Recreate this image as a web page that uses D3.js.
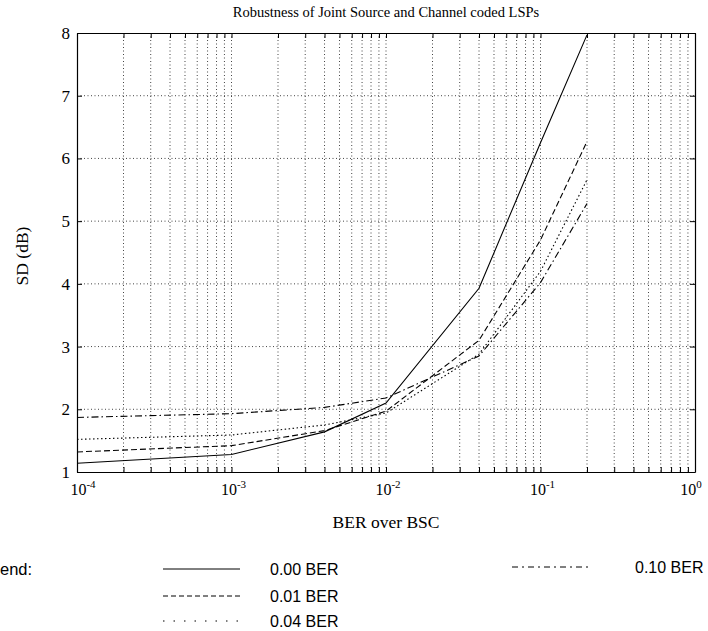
<!DOCTYPE html>
<html><head><meta charset="utf-8">
<script src="https://cdn.jsdelivr.net/npm/d3@7"></script>
<style>body{margin:0;background:#fff}svg{display:block}</style>
</head><body>
<svg id="c" width="708" height="631"></svg>
<script>
const berX = [1e-4, 1e-3, 4e-3, 1e-2, 4e-2, 1e-1, 2e-1];
const sd000 = [1.14, 1.28, 1.64, 2.10, 3.93, 6.25, 7.97];
const sd001 = [1.32, 1.42, 1.66, 1.97, 3.10, 4.70, 6.27];
const sd004 = [1.52, 1.59, 1.75, 1.94, 2.88, 4.20, 5.66];
const sd010 = [1.87, 1.93, 2.03, 2.18, 2.85, 4.02, 5.28];
const seriesNames = ["0.00 BER", "0.01 BER", "0.04 BER", "0.10 BER"];
const yTicks = [1, 2, 3, 4, 5, 6, 7, 8];
const xMajor = [-4, -3, -2, -1, 0];

const svg = d3.select("#c");
const L = 77, R = 695, T = 33, B = 472;
const x = d3.scaleLog().domain([1e-4, 1]).range([L, R]);
const y = d3.scaleLinear().domain([1, 8]).range([B, T]);

const xGrid = [];
for (let e = -4; e < 0; e++) for (let m = 1; m <= 9; m++) xGrid.push(m * Math.pow(10, e));
xGrid.push(1);

const g = svg.append("g");
g.selectAll(".vg").data(xGrid.filter(v => v > 1e-4 && v < 1)).enter().append("line")
  .attr("x1", d => x(d)).attr("x2", d => x(d)).attr("y1", T).attr("y2", B)
  .attr("stroke", "#444").attr("stroke-width", 1).attr("stroke-dasharray", "1,2.5");
g.selectAll(".hg").data(yTicks.filter(v => v > 1 && v < 8)).enter().append("line")
  .attr("x1", L).attr("x2", R).attr("y1", d => y(d)).attr("y2", d => y(d))
  .attr("stroke", "#444").attr("stroke-width", 1).attr("stroke-dasharray", "1,2.5");

const xb = d3.axisBottom(x).tickValues(xGrid).tickSizeInner(-5).tickSizeOuter(0).tickFormat("");
const xt = d3.axisTop(x).tickValues(xGrid).tickSizeInner(-5).tickSizeOuter(0).tickFormat("");
const yl = d3.axisLeft(y).tickValues(yTicks).tickSizeInner(-5).tickSizeOuter(0).tickFormat("");
const yr = d3.axisRight(y).tickValues(yTicks).tickSizeInner(-5).tickSizeOuter(0).tickFormat("");
[[xb, `translate(0,${B})`], [xt, `translate(0,${T})`], [yl, `translate(${L},0)`], [yr, `translate(${R},0)`]].forEach(([a, t]) => {
  const ax = svg.append("g").attr("transform", t).call(a);
  ax.selectAll("path").attr("stroke", "#000").attr("stroke-width", 1.2);
  ax.selectAll("line").attr("stroke", "#000").attr("stroke-width", 1);
});

svg.selectAll(".yl").data(yTicks).enter().append("text")
  .attr("x", L - 7).attr("y", d => y(d) + 6).attr("text-anchor", "end")
  .attr("font-family", "Liberation Serif, serif").attr("font-size", 17).text(d => d);

const xl = svg.selectAll(".xl").data(xMajor).enter().append("text")
  .attr("x", d => x(Math.pow(10, d)) + (d === -4 ? 6 : d === 0 ? -4 : 2)).attr("y", B + 23).attr("text-anchor", "middle")
  .attr("font-family", "Liberation Serif, serif").attr("font-size", 16);
xl.append("tspan").text("10");
xl.append("tspan").attr("dy", -7).attr("font-size", 11).text(d => d === 0 ? "0" : "-" + (-d));

svg.append("text").attr("x", 386).attr("y", 17).attr("text-anchor", "middle")
  .attr("font-family", "Liberation Serif, serif").attr("font-size", 14.5)
  .text("Robustness of Joint Source and Channel coded LSPs");
svg.append("text").attr("x", 386).attr("y", 528).attr("text-anchor", "middle")
  .attr("font-family", "Liberation Serif, serif").attr("font-size", 17.5).text("BER over BSC");
svg.append("text").attr("transform", "translate(28,256) rotate(-90)").attr("text-anchor", "middle")
  .attr("font-family", "Liberation Serif, serif").attr("font-size", 17.5).text("SD (dB)");

const styles = [
  { dash: null, ldash: null },
  { dash: "6,3", ldash: "5,3" },
  { dash: "1.5,2.5", ldash: "1.5,9" },
  { dash: "7,3,1.5,3", ldash: "6,4,2,4" }
];
const data = [sd000, sd001, sd004, sd010];
const line = d3.line().x(d => x(d[0])).y(d => y(d[1]));
data.forEach((s, i) => {
  svg.append("path").datum(berX.map((v, j) => [v, s[j]]))
    .attr("d", line).attr("fill", "none").attr("stroke", "#000").attr("stroke-width", 1.1)
    .attr("stroke-dasharray", styles[i].dash);
});

const lf = "Liberation Sans, Arial, sans-serif";
svg.append("text").attr("x", 0).attr("y", 575)
  .attr("font-family", lf).attr("font-size", 16.5).text("end:");
const legPos = [[163, 569], [163, 596], [163, 621], [512, 567]];
legPos.forEach((p, i) => {
  svg.append("line").attr("x1", p[0]).attr("x2", p[0] + 77).attr("y1", p[1]).attr("y2", p[1])
    .attr("stroke", "#000").attr("stroke-width", 1).attr("stroke-dasharray", styles[i].ldash);
  svg.append("text").attr("x", i === 3 ? 635 : 270).attr("y", p[1] + 6)
    .attr("font-family", lf).attr("font-size", 16).text(seriesNames[i]);
});
</script>
</body></html>
